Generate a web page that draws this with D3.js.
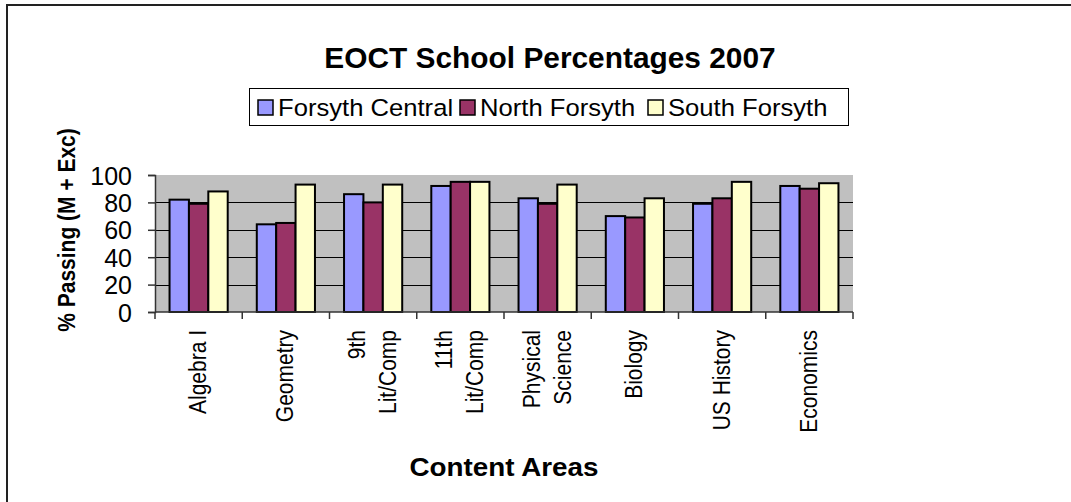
<!DOCTYPE html>
<html>
<head>
<meta charset="utf-8">
<script src="https://cdn.jsdelivr.net/npm/d3@7/dist/d3.min.js"></script>
<style>
	html, body{ margin: 0; padding: 0; background: #fff; }
	svg{ display: block; font-family: "Liberation Sans", Arial, Helvetica, sans-serif; }
</style>
</head>
<body>
<div id="chart"></div>
<script>
// data
var categories = ['Algebra I', 'Geometry', '9th|Lit/Comp', '11th|Lit/Comp', 'Physical|Science', 'Biology', 'US History', 'Economics']
	, seriesNames = ['Forsyth Central', 'North Forsyth', 'South Forsyth']
	, forsythCentral = [82, 64, 86, 92, 83, 70, 79, 92]
	, northForsyth = [79, 65, 80, 95, 79, 69, 83, 90]
	, southForsyth = [88, 93, 93, 95, 93, 83, 95, 94]
	, yTicks = [0, 20, 40, 60, 80, 100]
	, colors = ['#9999ff', '#993366', '#ffffcc']
	;

var W = 1071
	, H = 502
	, plot = {l: 155, r: 853, t: 175, b: 312}
	, series = [forsythCentral, northForsyth, southForsyth]
	, sx = 1.1   // the original sheet was stretched a bit sideways
	;

var svg = d3.select('#chart').append('svg').attr('width', W).attr('height', H);

// text placed at (tx,ty), widened by k
function label(g, tx, ty, k){
	return g.append('text').attr('transform', 'translate(' + tx + ',' + ty + ') scale(' + k + ',1)');
}

// outer chart frame (runs off the right / bottom edges)
svg.append('rect').attr('x', 7).attr('y', 5).attr('width', W + 20).attr('height', H + 20)
	.attr('fill', '#fff').attr('stroke', '#222').attr('stroke-width', 2);

// title
label(svg, 550, 68, 1.03).attr('text-anchor', 'middle')
	.attr('font-size', '29px').attr('font-weight', 'bold').text('EOCT School Percentages 2007');

// legend
var leg = svg.append('g');
leg.append('rect').attr('x', 249.5).attr('y', 88.5).attr('width', 599).attr('height', 37)
	.attr('fill', '#fff').attr('stroke', '#000').attr('stroke-width', 1);
var legX = [258, 460, 648];
seriesNames.forEach(function(name, i){
	leg.append('rect').attr('x', legX[i]).attr('y', 100).attr('width', 15).attr('height', 15)
		.attr('fill', colors[i]).attr('stroke', '#000').attr('stroke-width', 1.5);
	label(leg, legX[i] + 20, 115.5, 1.09).attr('font-size', '23.5px').text(name);
});

// scales
var x = d3.scaleBand().domain(categories).range([plot.l, plot.r])
	, y = d3.scaleLinear().domain([0, 100]).range([plot.b, plot.t])
	, bw = x.bandwidth() / 4.5
	, xs = d3.scaleBand().domain(d3.range(3)).range([bw * 0.75, bw * 3.75])
	;

// plot area + gridlines
svg.append('rect').attr('x', plot.l).attr('y', plot.t).attr('width', plot.r - plot.l).attr('height', plot.b - plot.t)
	.attr('fill', '#c0c0c0');
svg.append('g').selectAll('line').data(yTicks.slice(1, -1)).enter().append('line')
	.attr('x1', plot.l).attr('x2', plot.r).attr('y1', function(d){ return Math.round(y(d)) + 0.5; })
	.attr('y2', function(d){ return Math.round(y(d)) + 0.5; })
	.attr('stroke', '#000').attr('stroke-width', 1.2);

// bars
svg.append('g').selectAll('g').data(series).enter().append('g')
	.attr('fill', function(d, i){ return colors[i]; })
	.each(function(vals, si){
		d3.select(this).selectAll('rect').data(vals).enter().append('rect')
			.attr('x', function(d, i){ return x(categories[i]) + xs(si); })
			.attr('y', function(d){ return y(d); })
			.attr('width', xs.bandwidth())
			.attr('height', function(d){ return plot.b - y(d); })
			.attr('stroke', '#000').attr('stroke-width', 2);
	});

// y axis
var yAxis = svg.append('g').attr('transform', 'translate(' + plot.l + ',0)')
	.call(d3.axisLeft(y).tickValues(yTicks).tickSize(7).tickPadding(16));
yAxis.select('.domain').attr('stroke', '#333').attr('stroke-width', 1.5);
yAxis.selectAll('line').attr('stroke', '#333').attr('stroke-width', 1.5);
yAxis.selectAll('text').attr('font-size', '25px').attr('font-family', null).attr('fill', '#000').attr('dy', '0.36em');

// x axis: ticks at category boundaries
var xAxis = svg.append('g');
xAxis.append('line').attr('x1', plot.l).attr('x2', plot.r).attr('y1', plot.b).attr('y2', plot.b)
	.attr('stroke', '#333').attr('stroke-width', 1.5);
xAxis.selectAll('line.tk').data(categories.concat(null)).enter().append('line').attr('class', 'tk')
	.attr('x1', function(d){ return d === null ? plot.r : x(d); })
	.attr('x2', function(d){ return d === null ? plot.r : x(d); })
	.attr('y1', plot.b).attr('y2', plot.b + 7)
	.attr('stroke', '#333').attr('stroke-width', 1.5);

// x labels, rotated, right-aligned at top
xAxis.selectAll('text').data(categories).enter().append('text')
	.attr('font-size', '21px').attr('text-anchor', 'end')
	.attr('transform', function(d){
		return 'translate(' + (x(d) + x.bandwidth() / 2) + ',330) scale(' + sx + ',1) rotate(-90)';
	})
	.each(function(d){
		var lines = d.split('|')
			, t = d3.select(this)
			;
		lines.forEach(function(s, i){
			t.append('tspan').attr('x', 0)
				.attr('y', ((i - (lines.length - 1) / 2) * 31 + 7.5) / sx)
				.text(s);
		});
	});

// axis titles
svg.append('text').attr('transform', 'translate(75,230) scale(1.15,1) rotate(-90)').attr('text-anchor', 'middle')
	.attr('font-size', '21px').attr('font-weight', 'bold').text('% Passing (M + Exc)');
label(svg, 504, 476, 1.07).attr('text-anchor', 'middle')
	.attr('font-size', '26px').attr('font-weight', 'bold').text('Content Areas');
</script>
</body>
</html>
